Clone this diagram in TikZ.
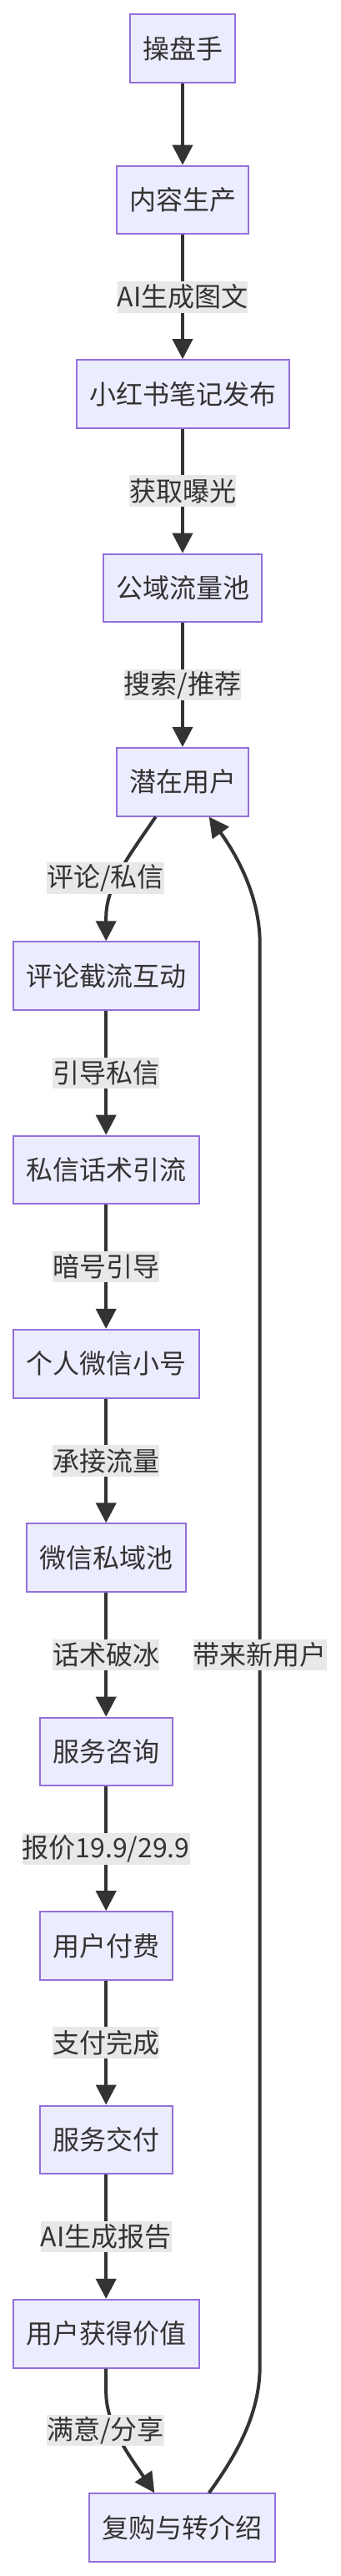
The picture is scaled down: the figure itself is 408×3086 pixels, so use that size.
\documentclass[tikz,border=0pt]{standalone}
\usepackage{fontspec}
\setmainfont{Noto Sans CJK SC}
\usetikzlibrary{arrows.meta,calc}
\definecolor{boxfill}{HTML}{ECECFF}
\definecolor{boxline}{HTML}{9370DB}
\definecolor{ink}{HTML}{333333}
\definecolor{lblbg}{HTML}{E8E8E8}
\begin{document}
\begin{tikzpicture}[x=1pt,y=-1pt,
  box/.style={draw=boxline, line width=2pt, fill=boxfill, minimum height=81.6pt,
    inner sep=0pt, text=ink, font=\fontsize{32}{38}\selectfont},
  lbl/.style={fill=lblbg, inner sep=0pt, minimum height=37.7pt, text=ink,
    font=\fontsize{32}{38}\selectfont},
  conn/.style={draw=ink, line width=4pt, -{Triangle[width=24pt,length=24pt]}}]
\useasboundingbox (0,0) rectangle (408,3086);

\node[box, minimum width=126.6pt] (A) at (219,58.3) {操盘手};
\node[box, minimum width=158.6pt] (B) at (219,239.5) {内容生产};
\node[box, minimum width=255pt] (C) at (219,472) {小红书笔记发布};
\node[box, minimum width=190.6pt] (D) at (219,704.5) {公域流量池};
\node[box, minimum width=158.6pt] (E) at (219,936.7) {潜在用户};
\node[box, minimum width=223pt] (F) at (127.2,1169.2) {评论截流互动};
\node[box, minimum width=223pt] (G) at (127.2,1401.5) {私信话术引流};
\node[box, minimum width=223pt] (H) at (127.2,1633.7) {个人微信小号};
\node[box, minimum width=190.6pt] (I) at (127.2,1866.2) {微信私域池};
\node[box, minimum width=159pt] (J) at (127.2,2098.5) {服务咨询};
\node[box, minimum width=159pt] (K) at (127.2,2331) {用户付费};
\node[box, minimum width=159pt] (L) at (127.2,2563.3) {服务交付};
\node[box, minimum width=223pt] (M) at (127.2,2795.7) {用户获得价值};
\node[box, minimum width=222.7pt] (N) at (218.7,3028.2) {复购与转介绍};

\draw[conn] (A) -- (B);
\draw[conn] (B) -- node[lbl] (l1) {AI生成图文} (C);
\draw[conn] (C) -- node[lbl] (l2) {获取曝光} (D);
\draw[conn] (D) -- node[lbl] (l3) {搜索/推荐} (E);
\draw[conn] ($(E.south)+(-32.3,0)$) .. controls +(-28.4,42) and +(0,-40) .. ($(F.north)+(0,-28.3)$) -- (F.north);
\node[lbl] (l4) at (126.7,1052) {评论/私信};
\draw[conn] (F) -- node[lbl] (l5) {引导私信} (G);
\draw[conn] (G) -- node[lbl] (l6) {暗号引导} (H);
\draw[conn] (H) -- node[lbl] (l7) {承接流量} (I);
\draw[conn] (I) -- node[lbl] (l8) {话术破冰} (J);
\draw[conn] (J) -- node[lbl] (l9) {报价19.9/29.9} (K);
\draw[conn] (K) -- node[lbl] (l10) {支付完成} (L);
\draw[conn] (L) -- node[lbl] (l11) {AI生成报告} (M);
\draw[conn] (M.south) -- ++(0,28.5) .. controls +(0,40) and +(-28.3,-42) .. ($(N.north)+(-33.4,0)$);
\node[lbl] (l12) at (126.7,2911.5) {满意/分享};

\coordinate (r1) at (311.7,2835);
\coordinate (r2) at (311.7,1130);
\draw[conn] ($(N.north)+(32,0)$) .. controls +(29.3,-40.5) and +(0,60) .. (r1)
  -- node[lbl] (l13) {带来新用户} (r2)
  .. controls +(0,-60) and +(29.3,40.3) .. ($(E.south)+(31.7,0)$);
\end{tikzpicture}
\end{document}
